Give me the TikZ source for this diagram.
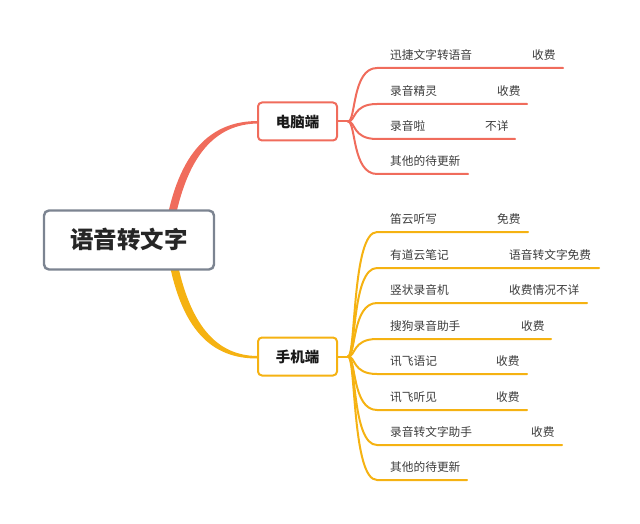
\documentclass[tikz,border=0pt]{standalone}
\usepackage{fontspec}
\newfontfamily\cjk{Noto Sans CJK SC}
\definecolor{redb}{RGB}{240,108,92}
\definecolor{orab}{RGB}{245,178,18}
\definecolor{rootb}{RGB}{124,132,145}
\definecolor{txt}{RGB}{60,60,60}
\begin{document}
\begin{tikzpicture}[x=1pt,y=-1pt,
  rootbox/.style={draw=rootb,line width=2.4pt,rounded corners=5pt,fill=white,minimum width=170pt,minimum height=59pt,font=\cjk\fontsize{23.5}{26}\selectfont\bfseries,text=black!85},
  mainbox/.style={draw=#1,line width=2pt,rounded corners=4pt,fill=white,minimum width=79pt,minimum height=38pt,font=\cjk\fontsize{14.5}{16}\selectfont\bfseries,text=black!90},
  leaf/.style={anchor=base west,inner sep=0pt,font=\cjk\fontsize{11.7}{13}\selectfont,text=txt},
  conn/.style={draw=#1,line width=2pt,line cap=round},
]
\useasboundingbox (0,0) rectangle (640,524);
% tapered main branches
\fill[redb] (165,230) .. controls (178,150) and (212,121) .. (258,121) -- (258,123.5) .. controls (216,124) and (186,154) .. (173,230) -- cycle;
\fill[orab] (167,250) .. controls (180,332) and (213,358.5) .. (257,358.5) -- (257,356) .. controls (217,355.5) and (188,326) .. (175,250) -- cycle;
\node[rootbox] (root) at (129,240) {语音转文字};
\node[mainbox=redb] (pc) at (297.5,121.5) {电脑端};
\node[mainbox=orab] (mob) at (297.5,356.5) {手机端};
\coordinate (pcj) at (348,121.5);
\coordinate (mobj) at (348,356.5);
\draw[conn=redb] (pc.east) -- (pcj);
\draw[conn=orab] (mob.east) -- (mobj);
% PC leaves
\foreach \i/\y/\xe/\name/\price/\px in {
  1/68/563/迅捷文字转语音/收费/532,
  2/104/527/录音精灵/收费/497,
  3/139/515/录音啦/不详/485,
  4/174/468/其他的待更新//0}{
  \coordinate (pcs\i) at (377,\y);
  \coordinate (pce\i) at (\xe,\y);
  \draw[conn=redb] (pcj) .. controls (356,121.5) and (352,\y) .. (pcs\i) -- (pce\i);
  \node[leaf] (pct\i) at (390,\y-8.5) {\name};
  \node[leaf] (pcp\i) at (\px,\y-8.5) {\price};
}
% mobile leaves
\foreach \i/\y/\xe/\name/\price/\px in {
  1/232/528/笛云听写/免费/497,
  2/268/599/有道云笔记/语音转文字免费/509,
  3/303/587/竖状录音机/收费情况不详/509,
  4/339/551/搜狗录音助手/收费/521,
  5/374/527/讯飞语记/收费/496,
  6/410/527/讯飞听见/收费/496,
  7/445/562/录音转文字助手/收费/531,
  8/480/467/其他的待更新//0}{
  \coordinate (ms\i) at (377,\y);
  \coordinate (me\i) at (\xe,\y);
  \draw[conn=orab] (mobj) .. controls (356,356.5) and (352,\y) .. (ms\i) -- (me\i);
  \node[leaf] (mt\i) at (390,\y-8.5) {\name};
  \node[leaf] (mp\i) at (\px,\y-8.5) {\price};
}
\end{tikzpicture}
\end{document}
